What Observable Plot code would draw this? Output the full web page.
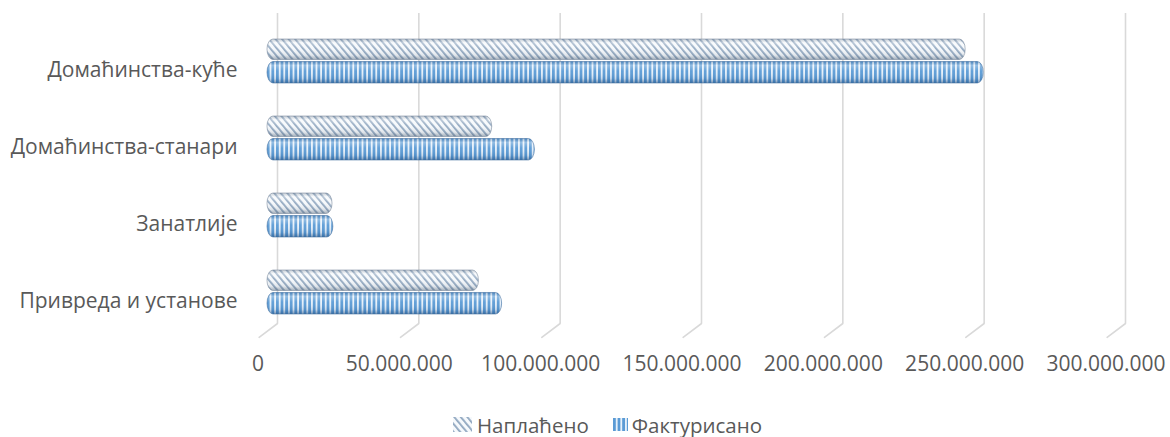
<!DOCTYPE html>
<html>
<head>
<meta charset="utf-8">
<script src="https://cdn.jsdelivr.net/npm/d3@7"></script>
<script src="https://cdn.jsdelivr.net/npm/@observablehq/plot@0.6"></script>
<style>
  body { margin: 0; background: #fff; font-family: "Open Sans", sans-serif; overflow: hidden; }
  #legend { width: 1170px; height: 37px; box-sizing: border-box; padding-top: 12px; padding-left: 453px;
            display: flex; align-items: center; font-size: 20.5px; color: #595959; line-height: 24px; }
  #legend .item { display: flex; align-items: center; }
  #legend svg { display: block; }
</style>
</head>
<body>
<div id="chart"></div>
<div id="legend"></div>
<script>
// ---- data ----
const categories = ["Домаћинства-куће", "Домаћинства-станари", "Занатлије", "Привреда и установе"];
const seriesNames = ["Наплаћено", "Фактурисано"];
const naplaceno   = [247.0e6, 79.5e6, 23.0e6, 74.8e6];
const fakturisano = [253.4e6, 94.6e6, 23.3e6, 83.0e6];
const xTicks = [0, 50e6, 100e6, 150e6, 200e6, 250e6, 300e6];

const rowsN = categories.map((c, i) => ({category: c, series: seriesNames[0], value: naplaceno[i]}));
const rowsF = categories.map((c, i) => ({category: c, series: seriesNames[1], value: fakturisano[i]}));

const fmt = d3.formatLocale({decimal: ",", thousands: ".", grouping: [3], currency: ["", ""]}).format(",");
const grid = "#d9d9d9";
const textColor = "#595959";

const plot = Plot.plot({
  width: 1170,
  height: 400,
  marginTop: 13,
  marginBottom: 77,
  marginLeft: 267,
  marginRight: 55,
  style: {fontFamily: "Open Sans", fontSize: "21px", color: textColor, background: "#fff"},
  x: {domain: [0, 300e6], axis: null},
  y: {type: "band", domain: categories, range: [22, 330], padding: 0, axis: null},
  marks: [
    Plot.ruleX(xTicks, {x: d => d, dx: 10, stroke: grid, strokeWidth: 1.6}),
    Plot.vector(xTicks, {x: d => d, frameAnchor: "bottom", dx: 10, length: 23, rotate: 233,
      anchor: "start", shape: "spike", r: 0, fill: "none", stroke: grid, strokeWidth: 1.6}),
    Plot.text(xTicks, {x: d => d, text: d => fmt(d), frameAnchor: "bottom", dy: 47, dx: -9.5,
      fill: textColor, fontSize: 21}),
    Plot.text(categories, {y: d => d, text: d => d, frameAnchor: "left", dx: -30, dy: 9,
      textAnchor: "end", fill: textColor, fontSize: 21}),
    // Наплаћено (back row)
    Plot.barX(rowsN, {x: "value", y: "category", insetTop: 17, insetBottom: 39.5, rx: 6, ry: 10,
      fill: "url(#patN)"}),
    Plot.barX(rowsN, {x: "value", y: "category", insetTop: 17, insetBottom: 39.5, rx: 6, ry: 10,
      fill: "url(#shadeN)", stroke: "#7f8ea0", strokeOpacity: 0.6, strokeWidth: 1}),
    // Фактурисано (front row)
    Plot.barX(rowsF, {x: "value", y: "category", insetTop: 39.5, insetBottom: 16, rx: 6, ry: 11,
      fill: "url(#patF)"}),
    Plot.barX(rowsF, {x: "value", y: "category", insetTop: 39.5, insetBottom: 16, rx: 6, ry: 11,
      fill: "url(#shadeF)", stroke: "#3f6e9f", strokeOpacity: 0.55, strokeWidth: 1})
  ]
});
document.getElementById("chart").appendChild(plot);

// ---- pattern / gradient definitions ----
const defs = d3.select(plot).insert("defs", ":first-child");
const pN = defs.append("pattern").attr("id", "patN").attr("patternUnits", "userSpaceOnUse")
  .attr("width", 5).attr("height", 5).attr("patternTransform", "rotate(-40)");
pN.append("rect").attr("width", 5).attr("height", 5).attr("fill", "#f6f9fc");
pN.append("rect").attr("width", 1.8).attr("height", 5).attr("fill", "#8fa6bf");

const pF = defs.append("pattern").attr("id", "patF").attr("patternUnits", "userSpaceOnUse")
  .attr("width", 4.6).attr("height", 10);
pF.append("rect").attr("width", 4.6).attr("height", 10).attr("fill", "#eaf3fc");
pF.append("rect").attr("width", 2.8).attr("height", 10).attr("fill", "#5b9bd5");

function shade(id, dark, k) {
  const g = defs.append("linearGradient").attr("id", id)
    .attr("x1", 0).attr("y1", 0).attr("x2", 0).attr("y2", 1);
  [[0, dark, 0.3 * k], [0.18, "#ffffff", 0.35], [0.45, "#ffffff", 0.05], [0.8, dark, 0.15 * k], [1, dark, 0.55 * k]]
    .forEach(([o, c, a]) => g.append("stop").attr("offset", o).attr("stop-color", c).attr("stop-opacity", a));
}
shade("shadeN", "#4d6075", 0.9);
shade("shadeF", "#1d4a7d", 1);

// ---- legend ----
const legend = d3.select("#legend");
const it1 = legend.append("div").attr("class", "item");
const s1 = it1.append("svg").attr("width", 19).attr("height", 15).style("margin-right", "5px");
s1.append("rect").attr("width", 19).attr("height", 15).attr("fill", "url(#patN)");
it1.append("span").text(seriesNames[0]);
const it2 = legend.append("div").attr("class", "item").style("margin-left", "24px");
const s2 = it2.append("svg").attr("width", 15).attr("height", 13).style("margin-right", "4px");
s2.append("rect").attr("width", 15).attr("height", 13).attr("fill", "url(#patF)");
it2.append("span").text(seriesNames[1]);
</script>
</body>
</html>
